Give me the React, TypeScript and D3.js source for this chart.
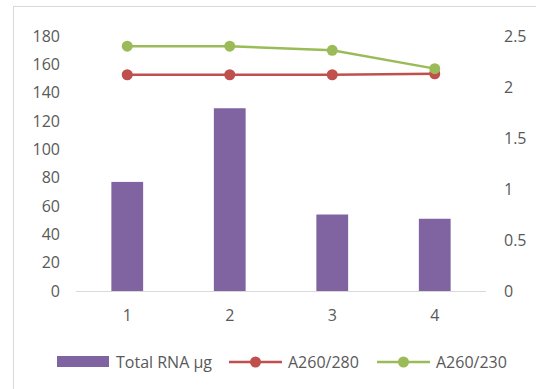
import React from "react";
import * as d3 from "d3";

const categories = ["1", "2", "3", "4"];
const totalRNA = [77, 129, 54, 51];
const a260_280 = [2.12, 2.12, 2.12, 2.13];
const a260_230 = [2.4, 2.4, 2.36, 2.18];
const leftTicks = [0, 20, 40, 60, 80, 100, 120, 140, 160, 180];
const rightTicks = [0, 0.5, 1, 1.5, 2, 2.5];
const legendLabels = ["Total RNA µg", "A260/280", "A260/230"];

const W = 536;
const H = 389;
const PURPLE = "#8064A2";
const RED = "#C0504D";
const GREEN = "#9BBB59";
const TEXT = "#595959";
const FONT = "'Open Sans', sans-serif";

export default function App() {
  const x = d3.scaleBand<string>().domain(categories).range([76, 486]).padding(0);
  const yL = d3.scaleLinear().domain([0, 180]).range([291, 36]);
  const yR = d3.scaleLinear().domain([0, 2.5]).range([291, 36]);
  const bw = x.bandwidth();
  const barW = bw * 0.31;
  const cx = (c: string) => (x(c) as number) + bw / 2;

  const line = d3
    .line<number>()
    .x((_, i) => cx(categories[i]))
    .y((d) => yR(d));

  const series = [
    { data: a260_280, color: RED },
    { data: a260_230, color: GREEN },
  ];

  const legendY = 362;

  return (
    <svg
      width={W}
      height={H}
      style={{ position: "absolute", left: 0, top: 0, background: "#fff" }}
      fontFamily={FONT}
    >
      <rect x={13.5} y={6.5} width={W + 20} height={H + 20} fill="#fff" stroke="#D9D9D9" strokeWidth={1} />
      {/* left axis labels */}
      {leftTicks.map((t) => (
        <text key={"l" + t} x={60} y={yL(t)} dy="0.36em" textAnchor="end" fontSize={16} fill={TEXT}>
          {t}
        </text>
      ))}
      {/* right axis labels */}
      {rightTicks.map((t) => (
        <text key={"r" + t} x={504} y={yR(t)} dy="0.36em" textAnchor="start" fontSize={16} fill={TEXT}>
          {t}
        </text>
      ))}
      {/* bars */}
      {categories.map((c, i) => (
        <rect
          key={"b" + c}
          x={cx(c) - barW / 2}
          y={yL(totalRNA[i])}
          width={barW}
          height={yL(0) - yL(totalRNA[i])}
          fill={PURPLE}
        />
      ))}
      {/* axis line */}
      <line x1={76} x2={486} y1={yL(0) + 0.5} y2={yL(0) + 0.5} stroke="#D9D9D9" strokeWidth={1} />
      {/* x labels */}
      {categories.map((c) => (
        <text key={"x" + c} x={cx(c)} y={315} dy="0.36em" textAnchor="middle" fontSize={16} fill={TEXT}>
          {c}
        </text>
      ))}
      {/* lines */}
      {series.map((s, k) => (
        <g key={"s" + k}>
          <path d={line(s.data) || ""} fill="none" stroke={s.color} strokeWidth={2.5} />
          {s.data.map((v, i) => (
            <circle key={i} cx={cx(categories[i])} cy={yR(v)} r={5.5} fill={s.color} />
          ))}
        </g>
      ))}
      {/* legend */}
      <rect x={57} y={356} width={52} height={11} fill={PURPLE} />
      <text x={116} y={legendY} dy="0.36em" fontSize={16} fill={TEXT}>
        {legendLabels[0]}
      </text>
      <line x1={229} x2={282} y1={legendY} y2={legendY} stroke={RED} strokeWidth={2.5} />
      <circle cx={255.5} cy={legendY} r={5.5} fill={RED} />
      <text x={288} y={legendY} dy="0.36em" fontSize={16} fill={TEXT}>
        {legendLabels[1]}
      </text>
      <line x1={377} x2={430} y1={legendY} y2={legendY} stroke={GREEN} strokeWidth={2.5} />
      <circle cx={403.5} cy={legendY} r={5.5} fill={GREEN} />
      <text x={436} y={legendY} dy="0.36em" fontSize={16} fill={TEXT}>
        {legendLabels[2]}
      </text>
    </svg>
  );
}
